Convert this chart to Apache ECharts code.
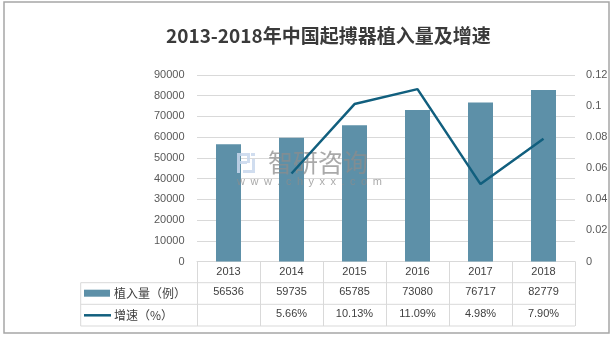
<!DOCTYPE html>
<html><head><meta charset="utf-8">
<script src="https://cdn.jsdelivr.net/npm/echarts@6/dist/echarts.min.js"></script>
<style>html,body{margin:0;padding:0;background:#fff}#c{width:613px;height:337px}</style>
</head><body><div id="c"></div>
<script>
var years = ['2013','2014','2015','2016','2017','2018'];
var implants = [56536, 59735, 65785, 73080, 76717, 82779];
var growth = [null, 0.0566, 0.1013, 0.1109, 0.0498, 0.0790];
var leftTicks = {min: 0, max: 90000, interval: 10000};
var rightTicks = {min: 0, max: 0.12, interval: 0.02};
var seriesNames = ['植入量（例）', '增速（%）'];
var titleText = '2013-2018年中国起搏器植入量及增速';

var growthLabels = growth.map(function(v){ return v == null ? '' : (v*100).toFixed(2) + '%'; });
var implantLabels = implants.map(function(v){ return String(v); });

var GL = 197, GR = 575, GT = 75, GB = 261.5;
var R1 = 282.7, R2 = 304.3, R3 = 326, TL = 80.7;
var lineC = '#d9d9d9';
var font = '"Liberation Sans", "Noto Sans CJK SC", sans-serif';
var txt = '#404040';
var wm = 'rgba(140,140,140,0.75)';
var logo = 'rgba(200,215,236,0.85)';

var chart = echarts.init(document.getElementById('c'), null, {renderer: 'canvas'});

function tableAxis(data, off) {
  return {
    type: 'category', data: data, gridIndex: 0, position: 'bottom', offset: off,
    axisLine: {show: false}, axisTick: {show: false},
    axisLabel: {fontSize: 11, color: txt, fontFamily: font, margin: 2.5, lineHeight: 14, interval: 0}
  };
}

var option = {
  backgroundColor: '#fff',
  animation: false,
  title: {
    text: titleText, left: 161, top: 21,
    textStyle: {fontSize: 19, fontWeight: 'bold', color: '#3a3a3a', fontFamily: '"Noto Sans CJK SC", sans-serif'}
  },
  legend: [
    {data: [{name: seriesNames[0], icon: 'rect'}], left: 84, top: R1 + 3.5, orient: 'vertical', itemWidth: 26, itemHeight: 7, itemGap: 0,
     textStyle: {fontSize: 12, color: txt, fontFamily: '"Noto Sans CJK SC", sans-serif', lineHeight: 14, padding: [0,0,0,-1]}, padding: 0},
    {data: [{name: seriesNames[1], icon: 'rect'}], left: 84, top: R2 + 4, orient: 'vertical', itemWidth: 27, itemHeight: 2.5, itemGap: 0,
     textStyle: {fontSize: 12, color: txt, fontFamily: '"Noto Sans CJK SC", sans-serif', lineHeight: 14, padding: [0,0,0,-2]}, padding: 0}
  ],
  grid: {left: GL, right: 613 - GR, top: GT, bottom: 337 - GB, containLabel: false},
  xAxis: [
    {
      type: 'category', data: years, gridIndex: 0, position: 'bottom',
      axisLine: {show: true, lineStyle: {color: lineC, width: 1}},
      axisTick: {show: true, interval: 0, length: R3 - GB, lineStyle: {color: lineC, width: 1}},
      axisLabel: {fontSize: 11, color: txt, fontFamily: font, margin: 3, lineHeight: 14, interval: 0}
    },
    tableAxis(implantLabels, R1 - GB),
    tableAxis(growthLabels, R2 - GB)
  ],
  yAxis: [
    {
      type: 'value', min: leftTicks.min, max: leftTicks.max, interval: leftTicks.interval,
      axisLine: {show: false}, axisTick: {show: false},
      axisLabel: {fontSize: 11, color: '#595959', fontFamily: font, margin: 12.5,
        formatter: function(v){ return String(v); }},
      splitLine: {lineStyle: {color: lineC, width: 1}}
    },
    {
      type: 'value', min: rightTicks.min, max: rightTicks.max, interval: rightTicks.interval,
      axisLine: {show: false}, axisTick: {show: false},
      axisLabel: {fontSize: 11, color: '#595959', fontFamily: font, margin: 11,
        formatter: function(v){ return String(parseFloat(v.toFixed(2))); }},
      splitLine: {show: false}
    }
  ],
  series: [
    {
      name: seriesNames[0], type: 'bar', data: implants, xAxisIndex: 0, yAxisIndex: 0,
      barWidth: 25, itemStyle: {color: '#5d90a8'}
    },
    {
      name: seriesNames[1], type: 'line', data: growth, xAxisIndex: 0, yAxisIndex: 1,
      symbol: 'none', connectNulls: false, zlevel: 2,
      lineStyle: {color: '#115f7e', width: 2.5}, itemStyle: {color: '#115f7e'}
    }
  ],
  graphic: [
    {type: 'rect', shape: {x: 4, y: 2, width: 605, height: 331}, style: {fill: 'none', stroke: '#a6a6a6', lineWidth: 1.5}, silent: true},
    {type: 'line', shape: {x1: TL, y1: R1, x2: GR, y2: R1}, style: {stroke: lineC, lineWidth: 1}, silent: true},
    {type: 'line', shape: {x1: TL, y1: R2, x2: GR, y2: R2}, style: {stroke: lineC, lineWidth: 1}, silent: true},
    {type: 'line', shape: {x1: TL, y1: R3, x2: GR, y2: R3}, style: {stroke: lineC, lineWidth: 1}, silent: true},
    {type: 'line', shape: {x1: TL, y1: R1, x2: TL, y2: R3}, style: {stroke: lineC, lineWidth: 1}, silent: true},
    {type: 'rect', zlevel: 1, z: 100, silent: true, shape: {x: 237, y: 153, width: 3, height: 20}, style: {fill: logo}},
    {type: 'rect', zlevel: 1, z: 100, silent: true, shape: {x: 240, y: 153, width: 10, height: 3}, style: {fill: logo}},
    {type: 'rect', zlevel: 1, z: 100, silent: true, shape: {x: 247, y: 156, width: 3, height: 7}, style: {fill: logo}},
    {type: 'rect', zlevel: 1, z: 100, silent: true, shape: {x: 240, y: 161, width: 7, height: 3}, style: {fill: logo}},
    {type: 'rect', zlevel: 1, z: 100, silent: true, shape: {x: 251, y: 153, width: 4, height: 3}, style: {fill: logo}},
    {type: 'rect', zlevel: 1, z: 100, silent: true, shape: {x: 252, y: 159, width: 3, height: 11}, style: {fill: logo}},
    {type: 'rect', zlevel: 1, z: 100, silent: true, shape: {x: 243, y: 170, width: 12, height: 3}, style: {fill: logo}},
    {type: 'text', zlevel: 1, z: 100, silent: true, x: 268, y: 150, style: {text: '智研咨询', fontSize: 25, fill: wm, fontFamily: '"Noto Sans CJK SC", sans-serif'}},
    {type: 'text', zlevel: 1, z: 100, silent: true, x: 237, y: 176, style: {text: 'www.chyxx.com'.split('').join('\u2002'), fontSize: 11, fill: wm, fontFamily: font}}
  ]
};
chart.setOption(option);
</script>
</body></html>
